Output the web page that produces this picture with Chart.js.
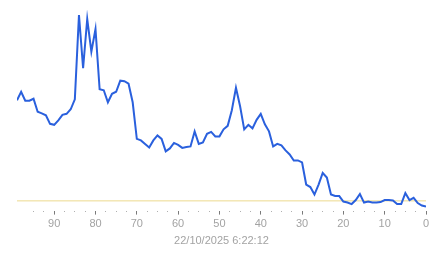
<!DOCTYPE html>
<html>
<head>
<meta charset="utf-8">
<script src="https://cdn.jsdelivr.net/npm/chart.js@4/dist/chart.umd.min.js"></script>
<style>
  html, body { margin: 0; padding: 0; background: #fff; }
  #box { width: 443px; height: 258px; }
</style>
</head>
<body>
<div id="box"><canvas id="myChart"></canvas></div>
<script>
// valeurs, de 99 jusqu'à 0
const values = [
    55, 59.25, 54.75, 54.75, 55.75, 49.25, 48.5, 47.5, 43.25, 42.75,
    45, 47.75, 48.25, 50.5, 55.5, 97.5, 71, 95.5, 79.25, 90.5,
    60.5, 60, 54, 58.25, 59.25, 64.75, 64.5, 63.25, 54, 35.75,
    35, 33.25, 31.5, 35, 37.5, 35.75, 29.5, 31, 33.75, 32.75,
    31.25, 31.75, 32, 39.5, 33.25, 34, 38.25, 39.25, 37, 37,
    40.5, 42.25, 50, 61.25, 52, 40.5, 42.75, 41, 45.25, 48.25,
    43, 39.5, 32, 33.25, 32.5, 30, 28, 25, 25, 24,
    13, 11.75, 8, 13, 18.75, 16.5, 8, 7.25, 7.25, 4.5,
    4, 3.25, 5.25, 8.25, 4, 4.5, 4, 4, 4.25, 5.25,
    5.25, 5, 3.25, 3.25, 8.75, 5.25, 6.4, 3.75, 2.5, 2
];
const ages = values.map((v, i) => values.length - 1 - i);
const threshold = [4.85, 4.85];
const thresholdAges = [99, 0];
const axisTitle = '22/10/2025 6:22:12';

const grey = '#a3a3a3';

let ctx = document.getElementById('myChart').getContext('2d');
let myChart = new Chart(ctx, {
    type: 'line',
    data: {
        datasets: [{
            data: ages.map((a, i) => ({ x: a, y: values[i] })),
            borderColor: '#2a60dd',
            borderWidth: 2,
            pointRadius: 0,
            tension: 0,
            order: 1
        }, {
            data: thresholdAges.map((a, i) => ({ x: a, y: threshold[i] })),
            borderColor: '#ecd98e',
            borderWidth: 1,
            pointRadius: 0,
            order: 2
        }]
    },
    options: {
        responsive: true,
        maintainAspectRatio: false,
        animation: false,
        layout: { padding: { left: 17, right: 17, top: 10, bottom: 3 } },
        plugins: {
            legend: { display: false },
            tooltip: { enabled: false }
        },
        scales: {
            x: {
                type: 'linear',
                reverse: true,
                min: 0,
                max: 99,
                border: { display: false },
                grid: {
                    drawOnChartArea: false,
                    tickLength: 4,
                    tickColor: c => (c.tick && c.tick.value % 10 === 0) ? '#7a7a7a' : '#b0b0b0',
                    tickBorderDash: c => (c.tick && c.tick.value % 10 === 0) ? [4, 0] : [1, 10]
                },
                afterBuildTicks: s => { s.ticks = s.ticks.filter(t => t.value % 2.5 === 0); },
                ticks: {
                    stepSize: 2.5,
                    autoSkip: false,
                    maxRotation: 0,
                    color: grey,
                    padding: 3,
                    font: { family: 'Liberation Sans, Arial', size: 11 },
                    callback: v => v % 10 === 0 ? v : ''
                },
                title: {
                    display: true,
                    text: axisTitle,
                    color: grey,
                    padding: { top: 1, bottom: 7 },
                    font: { family: 'Liberation Sans, Arial', size: 11 }
                }
            },
            y: {
                display: false,
                min: 0,
                max: 100
            }
        }
    }
});
</script>
</body>
</html>
